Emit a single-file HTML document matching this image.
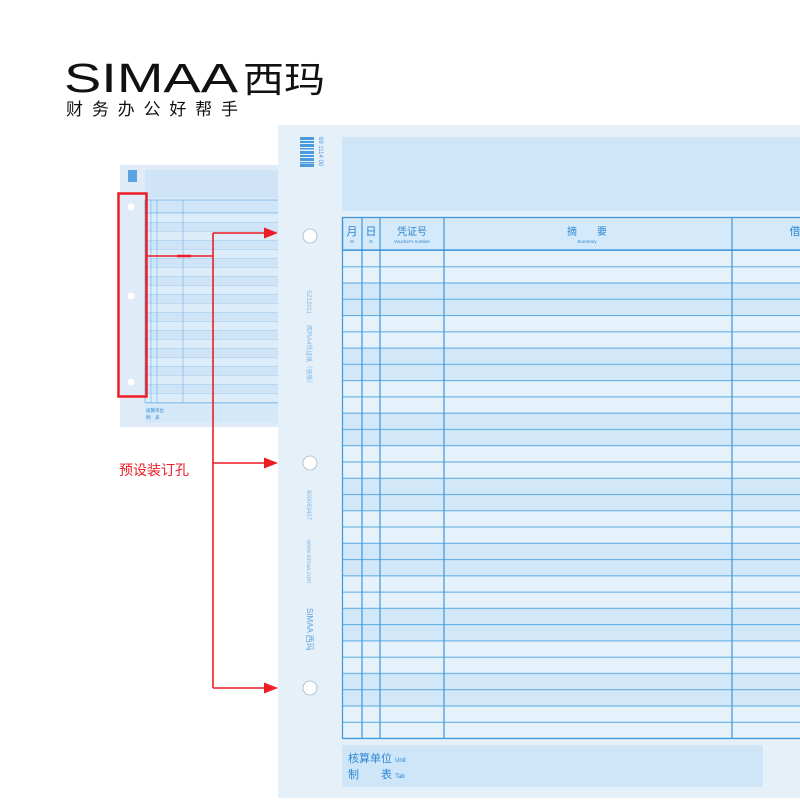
<!DOCTYPE html>
<html><head><meta charset="utf-8"><style>
body{margin:0;width:800px;height:800px;overflow:hidden;background:#fff;font-family:"Liberation Sans","Noto Sans CJK SC",sans-serif}
</style></head><body>
<svg width="800" height="800" viewBox="0 0 800 800" xmlns="http://www.w3.org/2000/svg" font-family="Liberation Sans, Noto Sans CJK SC, sans-serif">
<defs>
<pattern id="rows" x="342" y="250" width="800" height="65.07" patternUnits="userSpaceOnUse">
<rect x="0" y="0" width="800" height="32.5" fill="#e6f2fb"/>
<rect x="0" y="32.5" width="800" height="32.57" fill="#d2e8f9"/>
<line x1="0" x2="800" y1="0.5" y2="0.5" stroke="#5aa8e0" stroke-width="1"/>
<line x1="0" x2="800" y1="16.77" y2="16.77" stroke="#5aa8e0" stroke-width="1"/>
<line x1="0" x2="800" y1="33" y2="33" stroke="#5aa8e0" stroke-width="1"/>
<line x1="0" x2="800" y1="49.3" y2="49.3" stroke="#5aa8e0" stroke-width="1"/>
</pattern>
<pattern id="rows2" x="145" y="213" width="200" height="18" patternUnits="userSpaceOnUse">
<rect width="200" height="9" fill="#dcecf9"/><rect y="9" width="200" height="9" fill="#cfe5f7"/>
<line x1="0" x2="200" y1="0.5" y2="0.5" stroke="#9ccbed" stroke-width="0.6"/>
<line x1="0" x2="200" y1="9.5" y2="9.5" stroke="#9ccbed" stroke-width="0.6"/>
</pattern>
</defs>

<!-- logo -->
<text x="64" y="92" font-size="41" fill="#111" font-family="Liberation Sans, sans-serif" textLength="174" lengthAdjust="spacingAndGlyphs">SIMAA</text>
<text x="243" y="92" font-size="36" fill="#111" textLength="82" lengthAdjust="spacingAndGlyphs">西玛</text>
<text x="66" y="115" font-size="17" fill="#111" textLength="172" lengthAdjust="spacing">财务办公好帮手</text>

<!-- small sheet -->
<rect x="120" y="165" width="160" height="262" fill="#dfecf8"/>
<rect x="145" y="170" width="135" height="28" fill="#cfe5f7"/>
<rect x="128" y="170" width="9" height="12" fill="#5aa3e0"/>
<rect x="145" y="200" width="135" height="13" fill="#d0e6f8" stroke="#6fb3e6" stroke-width="0.8"/>
<rect x="145" y="213" width="135" height="190" fill="url(#rows2)"/>
<line x1="145" y1="200" x2="145" y2="403" stroke="#6fb3e6" stroke-width="0.8"/>
<line x1="151" y1="200" x2="151" y2="403" stroke="#6fb3e6" stroke-width="0.6"/>
<line x1="157" y1="200" x2="157" y2="403" stroke="#6fb3e6" stroke-width="0.6"/>
<line x1="183" y1="200" x2="183" y2="403" stroke="#6fb3e6" stroke-width="0.6"/>
<line x1="145" y1="403" x2="280" y2="403" stroke="#6fb3e6" stroke-width="0.8"/>
<rect x="145" y="405" width="135" height="18" fill="#d3e8f8"/>
<text x="146" y="412" font-size="4.5" fill="#3a8ad0">核算单位</text>
<text x="146" y="419" font-size="4.5" fill="#3a8ad0">制　表</text>
<circle cx="131" cy="207" r="3.5" fill="#fff"/>
<circle cx="131" cy="296" r="3.5" fill="#fff"/>
<circle cx="131" cy="382" r="3.5" fill="#fff"/>
<rect x="118.5" y="193.5" width="28" height="203" fill="none" stroke="#ee1c24" stroke-width="2.5"/>

<!-- main sheet -->
<rect x="278" y="125" width="522" height="673" fill="#e6f0f9"/>
<rect x="342" y="137" width="458" height="74" fill="#cfe6f8"/>
<g fill="#4a9ae0">
<rect x="300" y="137" width="14" height="3"/><rect x="300" y="141" width="14" height="2"/><rect x="300" y="144" width="14" height="3"/><rect x="300" y="148" width="14" height="1.5"/><rect x="300" y="151" width="14" height="3"/><rect x="300" y="155" width="14" height="2"/><rect x="300" y="158" width="14" height="3"/><rect x="300" y="162" width="14" height="1.5"/><rect x="300" y="164" width="14" height="3"/>
</g>
<text x="0" y="0" font-size="6" fill="#4a9ae0" transform="translate(319,137) rotate(90)">69 1114 00</text>

<rect x="342" y="250" width="458" height="488" fill="url(#rows)"/>
<rect x="342.5" y="217.5" width="470" height="32.5" fill="#d4e9f9" stroke="#3f97dc" stroke-width="1.3"/>
<g stroke="#3f97dc" stroke-width="1.2">
<line x1="342.5" y1="217" x2="342.5" y2="739"/>
<line x1="362" y1="217" x2="362" y2="739"/>
<line x1="380" y1="217" x2="380" y2="739"/>
<line x1="444" y1="217" x2="444" y2="739"/>
<line x1="732" y1="217" x2="732" y2="739"/>
<line x1="342" y1="738.5" x2="800" y2="738.5"/>
</g>
<g fill="#2e86d3" text-anchor="middle">
<text x="352" y="235" font-size="11">月</text>
<text x="352" y="243" font-size="4.5">M</text>
<text x="371" y="235" font-size="11">日</text>
<text x="371" y="243" font-size="4.5">D</text>
<text x="412" y="235" font-size="10">凭证号</text>
<text x="412" y="243" font-size="4.5">Voucher's number</text>
<text x="587" y="235" font-size="10">摘　　要</text>
<text x="587" y="243" font-size="4.5">Summary</text>
<text x="795" y="235" font-size="11">借</text>
</g>

<rect x="342" y="745" width="421" height="42" fill="#cfe6f8"/>
<text x="348" y="762" font-size="11" fill="#2e86d3">核算单位 <tspan font-size="6">Unit</tspan></text>
<text x="348" y="778" font-size="11" fill="#2e86d3">制　　表 <tspan font-size="6">Tab</tspan></text>

<g font-size="6" fill="#7fb8e6">
<text transform="translate(307,290) rotate(90)">SZ12011</text>
<text transform="translate(307,325) rotate(90)">西玛A4凭证纸（竖版）</text>
<text transform="translate(307,490) rotate(90)">800083457</text>
<text transform="translate(307,540) rotate(90)">www.simaa.com</text>
<text transform="translate(307,608) rotate(90)" font-size="8" fill="#5aa3e0">SIMAA 西玛</text>
</g>

<g fill="#fff" stroke="#aab8c4" stroke-width="0.8">
<circle cx="310" cy="236" r="7"/>
<circle cx="310" cy="463" r="7"/>
<circle cx="310" cy="688" r="7"/>
</g>

<!-- red connectors -->
<g stroke="#ee1c24" stroke-width="1.6" fill="none">
<polyline points="147,256 213,256"/>
<line x1="213" y1="233" x2="213" y2="688"/>
<line x1="213" y1="233" x2="266" y2="233"/>
<line x1="213" y1="463" x2="266" y2="463"/>
<line x1="213" y1="688" x2="266" y2="688"/>
</g>
<line x1="177" y1="256" x2="191" y2="256" stroke="#ee1c24" stroke-width="2.5"/>
<g fill="#ee1c24">
<polygon points="264,227.5 278,233 264,238.5"/>
<polygon points="264,457.5 278,463 264,468.5"/>
<polygon points="264,682.5 278,688 264,693.5"/>
</g>
<text x="119" y="475" font-size="14" fill="#ee1c24">预设装订孔</text>
</svg>
</body></html>
